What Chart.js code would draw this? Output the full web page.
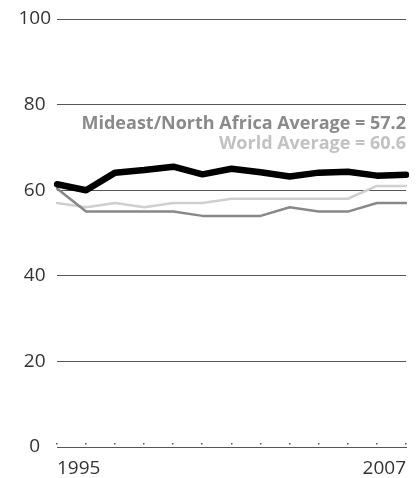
<!DOCTYPE html>
<html>
<head>
<meta charset="utf-8">
<script src="https://cdn.jsdelivr.net/npm/chart.js@4"></script>
<style>
  html, body { margin: 0; padding: 0; background: #fff; }
  #wrap { width: 416px; height: 478px; }
</style>
</head>
<body>
<div id="wrap"><canvas id="lineChart"></canvas></div>
<script>
const years = ['1995','1996','1997','1998','1999','2000','2001','2002','2003','2004','2005','2006','2007'];
const countryScores = [61.4, 60.0, 64.1, 64.7, 65.5, 63.7, 65.0, 64.2, 63.2, 64.1, 64.3, 63.4, 63.6];
const regionScores  = [60.4, 55.0, 55.0, 55.0, 55.0, 54.0, 54.0, 54.0, 56.0, 55.0, 55.0, 57.0, 57.0];
const worldScores   = [57.0, 56.0, 57.0, 56.0, 57.0, 57.0, 58.0, 58.0, 58.0, 58.0, 58.0, 61.0, 61.0];
const yTicks = [0, 20, 40, 60, 80, 100];
const notes = [
  { text: 'Mideast/North Africa Average = 57.2', color: '#8a8a8a', at: 75.4 },
  { text: 'World Average = 60.6', color: '#c2c2c2', at: 70.8 }
];

// small dots above the axis line plus the two average notes
const extras = {
  id: 'extras',
  afterDraw(chart) {
    const c = chart.ctx, x = chart.scales.x, y = chart.scales.y;
    c.save();
    c.fillStyle = '#555';
    x.ticks.forEach((t, i) => {
      const px = x.getPixelForTick(i);
      c.fillRect(Math.round(px) - 1, chart.chartArea.bottom - 4, 1.5, 1.5);
    });
    c.font = 'bold 18px "Open Sans"';
    c.textAlign = 'right';
    c.textBaseline = 'middle';
    notes.forEach(n => {
      c.fillStyle = n.color;
      c.fillText(n.text, chart.chartArea.right, y.getPixelForValue(n.at));
    });
    c.restore();
  }
};

let lineChart;
document.addEventListener('DOMContentLoaded', () => {
  const ctx = document.getElementById('lineChart').getContext('2d');
  lineChart = new Chart(ctx, {
    type: 'line',
    data: {
      labels: years,
      datasets: [
        { data: countryScores, borderColor: '#000', borderWidth: 6.5 },
        { data: regionScores, borderColor: '#888', borderWidth: 2.5 },
        { data: worldScores, borderColor: '#cfcfcf', borderWidth: 2.5 }
      ]
    },
    options: {
      responsive: true,
      maintainAspectRatio: false,
      animation: false,
      layout: { padding: { top: 19, right: 6, left: 0, bottom: 0 } },
      elements: {
        point: { radius: 0 },
        line: { tension: 0, borderCapStyle: 'round', borderJoinStyle: 'round' }
      },
      plugins: { legend: { display: false }, tooltip: { enabled: false } },
      scales: {
        x: {
          offset: false,
          grid: { display: false, drawTicks: false },
          border: { display: true, color: '#555', width: 1 },
          afterFit(s) { s.height = 31; },
          ticks: {
            autoSkip: false,
            maxRotation: 0,
            align: 'inner',
            padding: 10,
            color: '#333',
            font: { family: 'Open Sans', size: 19 },
            callback(v, i) { return (i === 0 || i === years.length - 1) ? years[i] : ''; }
          }
        },
        y: {
          min: 0,
          max: 100,
          afterBuildTicks(s) { s.ticks = yTicks.map(v => ({ value: v })); },
          afterFit(s) { s.width = 57; },
          grid: { color: '#555', lineWidth: 1, drawTicks: false },
          border: { display: false },
          ticks: {
            crossAlign: 'center',
            padding: 6,
            color: '#333',
            font: { family: 'Open Sans', size: 19 }
          }
        }
      }
    },
    plugins: [extras]
  });
});
</script>
</body>
</html>
